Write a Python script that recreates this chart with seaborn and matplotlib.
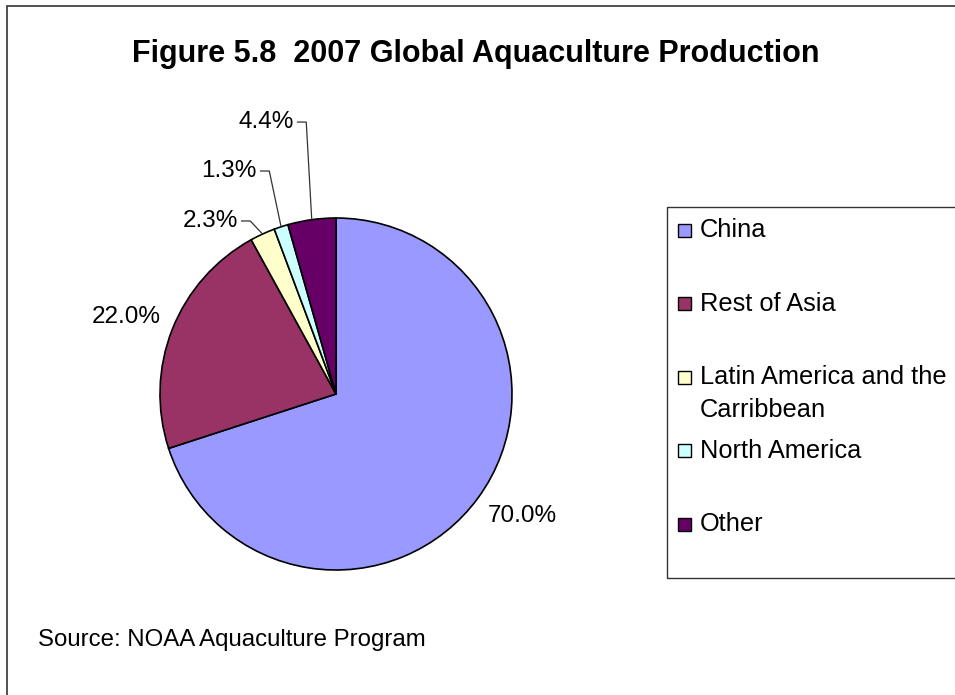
import matplotlib
matplotlib.use("Agg")
import matplotlib.pyplot as plt
from matplotlib.patches import Rectangle
import numpy as np
import seaborn as sns

# 2007 aquaculture production shares by region (percent)
regions = ["China", "Rest of Asia", "Latin America and the\nCarribbean",
           "North America", "Other"]
shares = [70.0, 22.0, 2.3, 1.3, 4.4]
colors = ["#9999FF", "#993366", "#FFFFCC", "#CCFFFF", "#660066"]

title = "Figure 5.8  2007 Global Aquaculture Production"
source = "Source: NOAA Aquaculture Program"

sns.set_theme(style="white")
plt.rcParams["font.family"] = ["Liberation Sans", "DejaVu Sans"]

W, H = 955, 695
fig = plt.figure(figsize=(W / 100, H / 100), dpi=100)
fig.patch.set_facecolor("white")


def fx(px):
    return px / W


def fy(py):
    return 1 - py / H


# chart-area frame (only left and top edges fall inside the canvas)
fig.add_artist(Rectangle((fx(7), fy(H + 20)), fx(W + 20) - fx(7), fy(6) - fy(H + 20),
                         transform=fig.transFigure, fill=False,
                         edgecolor="#333333", lw=1.2))

# pie axes
R, cx, cy = 176, 336, 394
ax = fig.add_axes([fx(cx - R), fy(cy + R), 2 * R / W, 2 * R / H])
wedges, _ = ax.pie(shares, colors=colors, startangle=90, counterclock=False,
                   radius=1.0, wedgeprops=dict(edgecolor="black", linewidth=1.2))
for w in wedges:
    w.set_clip_on(False)
ax.set_xlim(-1, 1)
ax.set_ylim(-1, 1)
ax.set_aspect("equal")
ax.axis("off")

# label placement in pie units: (x, y, horizontal alignment, leader line?)
label_pos = [(1.057, -0.693, "center", False),
             (-1.193, 0.4375, "center", False),
             (-0.557, 0.983, "right", True),
             (-0.449, 1.267, "right", True),
             (-0.239, 1.545, "right", True)]

for w, v, (tx, ty, ha, leader) in zip(wedges, shares, label_pos):
    ax.text(tx, ty, f"{v:.1f}%", ha=ha, va="center", fontsize=17.5,
            color="black", clip_on=False)
    if leader:
        mid = np.deg2rad((w.theta1 + w.theta2) / 2)
        xs = [tx + 0.017, tx + 0.07, np.cos(mid)]
        ys = [ty, ty, np.sin(mid)]
        ax.plot(xs, ys, color="#333333", lw=0.9, clip_on=False,
                solid_capstyle="butt")

# title and source note
fig.text(fx(476), fy(54), title, ha="center", va="center",
         fontsize=22, fontweight="bold", color="black")
fig.text(fx(38), fy(640), source, ha="left", va="center",
         fontsize=17.3, color="black")

# legend box
fig.add_artist(Rectangle((fx(667), fy(578)), fx(W + 20) - fx(667), fy(207) - fy(578),
                         transform=fig.transFigure, fill=False,
                         edgecolor="#333333", lw=1.0))
row_y = 230
for name, col in zip(regions, colors):
    fig.add_artist(Rectangle((fx(678), fy(row_y + 6.5)), 13 / W, 13 / H,
                             transform=fig.transFigure, facecolor=col,
                             edgecolor="black", lw=1.0))
    for k, line in enumerate(name.split("\n")):
        fig.text(fx(700), fy(row_y + 33 * k), line, ha="left", va="center",
                 fontsize=18.3, color="black")
    row_y += 73.5

fig.savefig("out.png", dpi=100, facecolor="white")
